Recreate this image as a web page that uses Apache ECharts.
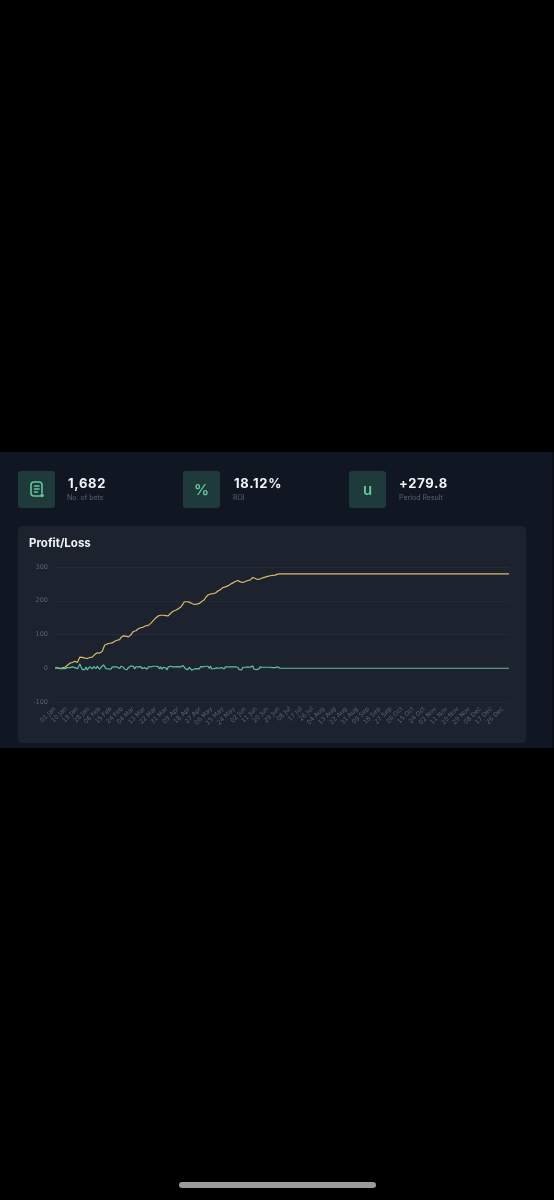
<!DOCTYPE html>
<html><head><meta charset="utf-8">
<script src="https://cdn.jsdelivr.net/npm/echarts@6/dist/echarts.min.js"></script>
<style>
html,body{margin:0;padding:0;background:#000;width:554px;height:1200px;overflow:hidden;font-family:Inter,"Noto Sans",sans-serif}
#band{position:absolute;left:0;top:452px;width:554px;height:296px;background:#111722}
#edge{position:absolute;left:552px;top:452px;width:2px;height:296px;background:#0b0f16}
.ic{position:absolute;top:471px;width:37px;height:37px;border-radius:3px;background:#1f3a3a;color:#62c79f;display:flex;align-items:center;justify-content:center;font-size:15px;font-weight:600;filter:blur(.3px)}
.v{position:absolute;top:475px;color:#f2f4f6;font-size:13px;font-weight:700;letter-spacing:.7px;line-height:16px;white-space:nowrap;filter:blur(.3px)}
.l{position:absolute;top:493px;color:#5b6370;font-size:7px;line-height:10px;white-space:nowrap;filter:blur(.3px)}
#card{position:absolute;left:18px;top:526px;width:508px;height:217px;border-radius:4px;background:#1c222e}
#chart{position:absolute;left:0;top:0;width:508px;height:217px;filter:blur(.35px)}
#home{position:absolute;left:179px;top:1182px;width:197px;height:6px;border-radius:3px;background:#9b9b9b}
</style></head><body>
<div id="band"></div><div id="edge"></div>
<div class="ic" style="left:18px"><svg width="18" height="20" viewBox="0 0 18 20" fill="none" stroke="#62c79f" stroke-width="1.6" stroke-linecap="round"><path d="M12 16H6a3 3 0 0 1-3-3V5a3 3 0 0 1 3-3h5a3 3 0 0 1 3 3v8"/><path d="M6.5 6H11M6.5 9H11M6.5 12H9.5"/><circle cx="14" cy="15.5" r="1.8" fill="#62c79f" stroke="none"/></svg></div>
<div class="v" style="left:68px">1,682</div><div class="l" style="left:67px">No. of bets</div>
<div class="ic" style="left:183px">%</div>
<div class="v" style="left:234px">18.12%</div><div class="l" style="left:233px">ROI</div>
<div class="ic" style="left:349px">u</div>
<div class="v" style="left:399px">+279.8</div><div class="l" style="left:399px">Period Result</div>
<div id="card"><div id="chart"></div></div>
<div id="home"></div>
<script>
const months = ["Jan","Feb","Mar","Apr","May","Jun","Jul","Aug","Sep","Oct","Nov","Dec"];
const monthLengths = [31,29,31,30,31,30,31,31,30,31,30,31];
const categories = [];
monthLengths.forEach((n,m)=>{for(let d=1;d<=n;d++)categories.push(String(d).padStart(2,"0")+" "+months[m]);});
const yTicks = {min:-100,max:300,step:100};

const cumulative = [
0,0,2,0,-1,2,1,4,3,7,
9,13,15,13,17,19,21,18,17,22,
33,36,32,34,30,34,29,28,32,35,
33,38,41,40,46,48,45,48,50,60,
69,68,72,71,74,71,75,76,80,79,
83,86,85,91,93,96,93,95,91,93,
92,99,103,109,107,111,113,117,115,120,
119,122,124,126,123,127,129,133,135,141,
143,149,150,155,153,157,154,157,155,156,
151,155,157,163,165,169,168,172,171,176,
177,181,183,191,197,195,197,193,196,198,
192,191,189,191,190,194,192,197,198,202,
203,209,211,217,216,220,218,221,220,223,
224,229,229,233,235,239,237,241,240,244,
245,249,249,253,253,257,257,260,256,256,
251,254,254,257,256,260,259,262,264,269,
266,266,262,263,261,265,265,268,267,270,
269,272,271,274,273,275,274,276,275,279,
279.8,
279.8,279.8,279.8,279.8,279.8,279.8,279.8,279.8,279.8,279.8,
279.8,279.8,279.8,279.8,279.8,279.8,279.8,279.8,279.8,279.8,
279.8,279.8,279.8,279.8,279.8,279.8,279.8,279.8,279.8,279.8,
279.8,279.8,279.8,279.8,279.8,279.8,279.8,279.8,279.8,279.8,
279.8,279.8,279.8,279.8,279.8,279.8,279.8,279.8,279.8,279.8,
279.8,279.8,279.8,279.8,279.8,279.8,279.8,279.8,279.8,279.8,
279.8,279.8,279.8,279.8,279.8,279.8,279.8,279.8,279.8,279.8,
279.8,279.8,279.8,279.8,279.8,279.8,279.8,279.8,279.8,279.8,
279.8,279.8,279.8,279.8,279.8,279.8,279.8,279.8,279.8,279.8,
279.8,279.8,279.8,279.8,279.8,279.8,279.8,279.8,279.8,279.8,
279.8,279.8,279.8,279.8,279.8,279.8,279.8,279.8,279.8,279.8,
279.8,279.8,279.8,279.8,279.8,279.8,279.8,279.8,279.8,279.8,
279.8,279.8,279.8,279.8,279.8,279.8,279.8,279.8,279.8,279.8,
279.8,279.8,279.8,279.8,279.8,279.8,279.8,279.8,279.8,279.8,
279.8,279.8,279.8,279.8,279.8,279.8,279.8,279.8,279.8,279.8,
279.8,279.8,279.8,279.8,279.8,279.8,279.8,279.8,279.8,279.8,
279.8,279.8,279.8,279.8,279.8,279.8,279.8,279.8,279.8,279.8,
279.8,279.8,279.8,279.8,279.8,279.8,279.8,279.8,279.8,279.8,
279.8,279.8,279.8,279.8,279.8
];

const daily = [
0,0,2,-2,-1,3,-1,3,-1,4,
2,4,2,-2,4,2,2,-3,-1,5,
13,3,-4,-7,-4,4,-5,-4,5,3,
-2,5,3,-1,6,2,-3,3,2,10,
7,-1,4,-2,3,-3,4,1,4,-1,
4,3,-1,6,2,3,-3,2,-4,2,
-1,7,4,6,-2,4,2,4,8,5,
-1,3,2,2,-3,4,2,4,2,6,
2,6,1,5,-2,4,-3,3,-2,1,
-5,4,2,6,2,4,-1,4,-1,5,
1,4,2,8,12,-2,2,-4,3,2,
-6,-8,-2,2,-1,4,-2,5,1,4,
1,6,2,6,-1,7,-2,3,-1,3,
1,5,0,4,2,4,-2,4,-1,4,
1,4,0,4,0,4,0,3,-4,0,
-5,3,0,3,-1,4,-1,3,2,7,
-3,0,-4,1,-2,4,0,3,-1,3,
-1,3,-1,3,-1,2,-1,2,-1,4,
1,
0,0,0,0,0,0,0,0,0,0,
0,0,0,0,0,0,0,0,0,0,
0,0,0,0,0,0,0,0,0,0,
0,0,0,0,0,0,0,0,0,0,
0,0,0,0,0,0,0,0,0,0,
0,0,0,0,0,0,0,0,0,0,
0,0,0,0,0,0,0,0,0,0,
0,0,0,0,0,0,0,0,0,0,
0,0,0,0,0,0,0,0,0,0,
0,0,0,0,0,0,0,0,0,0,
0,0,0,0,0,0,0,0,0,0,
0,0,0,0,0,0,0,0,0,0,
0,0,0,0,0,0,0,0,0,0,
0,0,0,0,0,0,0,0,0,0,
0,0,0,0,0,0,0,0,0,0,
0,0,0,0,0,0,0,0,0,0,
0,0,0,0,0,0,0,0,0,0,
0,0,0,0,0,0,0,0,0,0,
0,0,0,0,0
];

const chart = echarts.init(document.getElementById("chart"),null,{renderer:"canvas"});
chart.setOption({
  animation:false,
  backgroundColor:"transparent",
  title:{text:"Profit/Loss",left:11,top:12,padding:0,textStyle:{color:"#f2f4f6",fontFamily:"Inter",fontSize:11.5,fontWeight:700}},
  grid:{left:37,right:17,top:41,bottom:41,containLabel:false},
  xAxis:{type:"category",data:categories,boundaryGap:false,
    axisLine:{show:false},axisTick:{show:false},
    axisLabel:{interval:8,rotate:45,fontSize:6.2,color:"#5c6371",margin:6,fontFamily:"DejaVu Sans",hideOverlap:false},
    splitLine:{show:false}},
  yAxis:{type:"value",min:yTicks.min,max:yTicks.max,interval:yTicks.step,
    axisLine:{show:false},axisTick:{show:false},
    axisLabel:{fontSize:6.5,color:"#5c6371",margin:7,fontFamily:"DejaVu Sans"},
    splitLine:{lineStyle:{color:"#242a36",width:1}}},
  series:[
    {name:"Cumulative",type:"line",data:cumulative,showSymbol:false,symbol:"none",sampling:false,lineStyle:{color:"#d9bb6c",width:1.2},z:2},
    {name:"Daily",type:"line",data:daily,showSymbol:false,symbol:"none",sampling:false,lineStyle:{color:"#5fbd9f",width:1.2},z:3}
  ]
});
</script>
</body></html>
